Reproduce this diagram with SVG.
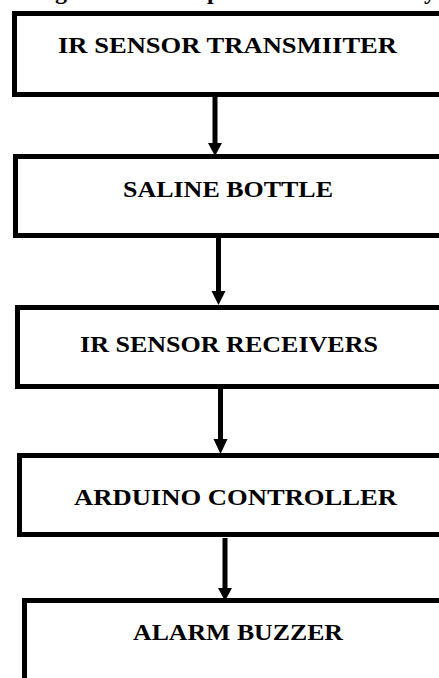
<svg xmlns="http://www.w3.org/2000/svg" width="439" height="678" viewBox="0 0 439 678">
<style>
.box{fill:#fff;stroke:#000;stroke-width:5}
.lbl{font-family:"Liberation Serif","Times New Roman",serif;font-weight:bold;font-size:24px;fill:#000}
.ttl{font-family:"Liberation Serif","Times New Roman",serif;font-weight:bold;font-size:24px;fill:#000}
.wire{stroke:#000;stroke-width:5;fill:none}
.head{fill:#000;stroke:none}
</style>
<rect width="439" height="678" fill="#fff"/>
<g id="title-fragment">
<text class="ttl" x="55" y="-1">g</text>
<text class="ttl" x="207" y="-1">p</text>
<text class="ttl" x="424" y="-1">y</text>
</g>
<g id="connectors">
<line class="wire" x1="215" y1="97" x2="215" y2="144"/>
<polygon class="head" points="208,143 222,143 215,156"/>
<line class="wire" x1="218.5" y1="238" x2="218.5" y2="292"/>
<polygon class="head" points="211.5,291 225.5,291 218.5,305"/>
<line class="wire" x1="220.5" y1="389" x2="220.5" y2="440"/>
<polygon class="head" points="213.5,439 227.5,439 220.5,454"/>
<line class="wire" x1="225" y1="538" x2="225" y2="589"/>
<polygon class="head" points="218,588 232,588 225,601"/>
</g>
<g id="node-ir-transmitter">
<rect class="box" x="14.5" y="13.5" width="500" height="81"/>
<text class="lbl" x="58" y="53" textLength="339" lengthAdjust="spacingAndGlyphs">IR SENSOR TRANSMIITER</text>
</g>
<g id="node-saline-bottle">
<rect class="box" x="15.5" y="156.5" width="500" height="79"/>
<text class="lbl" x="123" y="197" textLength="210" lengthAdjust="spacingAndGlyphs">SALINE BOTTLE</text>
</g>
<g id="node-ir-receivers">
<rect class="box" x="17.5" y="307.5" width="500" height="79"/>
<text class="lbl" x="80" y="352" textLength="298" lengthAdjust="spacingAndGlyphs">IR SENSOR RECEIVERS</text>
</g>
<g id="node-arduino">
<rect class="box" x="19.5" y="455.5" width="500" height="79"/>
<text class="lbl" x="74" y="505" textLength="323" lengthAdjust="spacingAndGlyphs">ARDUINO CONTROLLER</text>
</g>
<g id="node-alarm-buzzer">
<rect class="box" x="24.5" y="600.5" width="500" height="200"/>
<text class="lbl" x="133" y="640" textLength="210" lengthAdjust="spacingAndGlyphs">ALARM BUZZER</text>
</g>
</svg>
